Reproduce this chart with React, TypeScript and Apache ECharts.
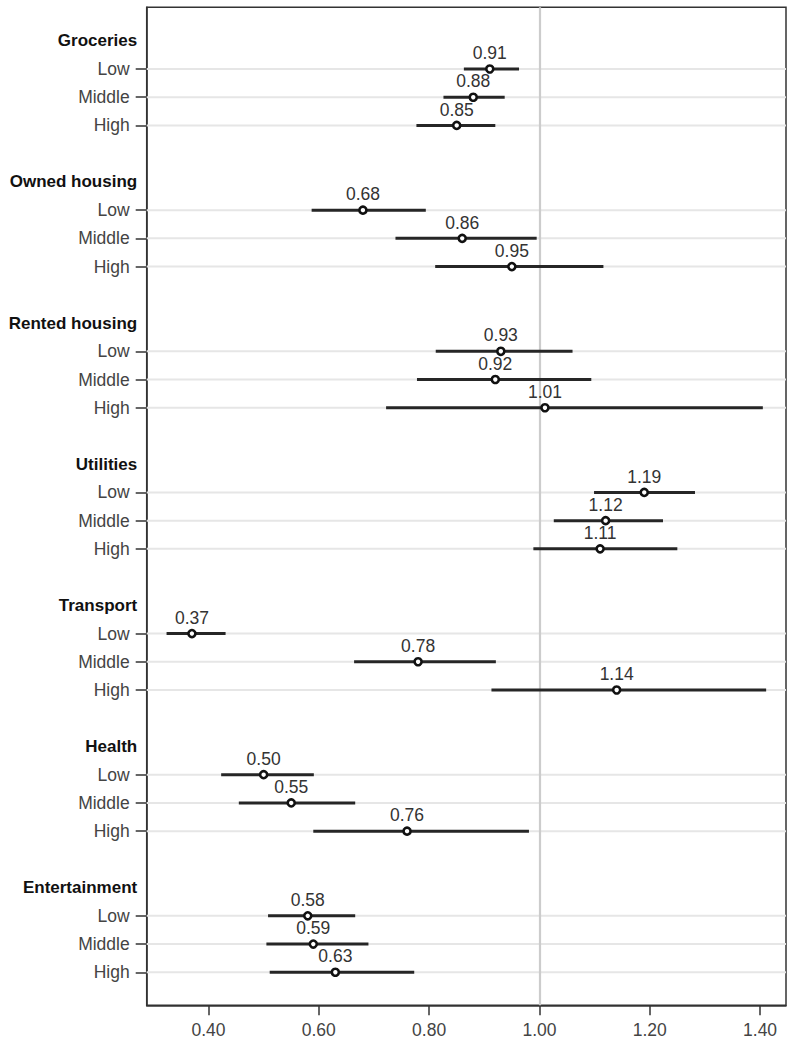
import React, { useEffect, useRef } from "react";
import * as echarts from "echarts";

const groups = ["Groceries", "Owned housing", "Rented housing", "Utilities", "Transport", "Health", "Entertainment"];
const levels = ["Low", "Middle", "High"];

// estimates per group: Low, Middle, High
const estGroceries = [0.91, 0.88, 0.85];
const estOwned = [0.68, 0.86, 0.95];
const estRented = [0.93, 0.92, 1.01];
const estUtilities = [1.19, 1.12, 1.11];
const estTransport = [0.37, 0.78, 1.14];
const estHealth = [0.5, 0.55, 0.76];
const estEntertainment = [0.58, 0.59, 0.63];

const lowGroceries = [0.863, 0.826, 0.777];
const lowOwned = [0.587, 0.739, 0.811];
const lowRented = [0.812, 0.778, 0.722];
const lowUtilities = [1.099, 1.026, 0.989];
const lowTransport = [0.324, 0.664, 0.913];
const lowHealth = [0.423, 0.455, 0.59];
const lowEntertainment = [0.508, 0.505, 0.511];

const upGroceries = [0.963, 0.937, 0.92];
const upOwned = [0.794, 0.995, 1.116];
const upRented = [1.06, 1.094, 1.405];
const upUtilities = [1.282, 1.224, 1.25];
const upTransport = [0.431, 0.921, 1.411];
const upHealth = [0.591, 0.666, 0.981];
const upEntertainment = [0.666, 0.69, 0.773];

const xTicks = [0.4, 0.6, 0.8, 1.0, 1.2, 1.4];
const refValue = 1.0;

const estimates = [estGroceries, estOwned, estRented, estUtilities, estTransport, estHealth, estEntertainment];
const lowers = [lowGroceries, lowOwned, lowRented, lowUtilities, lowTransport, lowHealth, lowEntertainment];
const uppers = [upGroceries, upOwned, upRented, upUtilities, upTransport, upHealth, upEntertainment];

const FONT = "'Liberation Sans', Arial, Helvetica, sans-serif";

export default function App() {
  const ref = useRef<HTMLDivElement>(null);

  useEffect(() => {
    if (!ref.current) return;
    const chart = echarts.init(ref.current, undefined, { renderer: "svg" });

    const rowPos: number[] = [];
    const headerPos: number[] = [];
    const pointData: number[][] = [];
    const ciData: number[][] = [];
    groups.forEach((g, gi) => {
      headerPos.push(gi * 5);
      levels.forEach((l, li) => {
        const row = gi * 5 + li + 1;
        rowPos.push(row);
        pointData.push([estimates[gi][li], row]);
        ciData.push([lowers[gi][li], uppers[gi][li], row]);
      });
    });

    const yMin = -1.186;
    const yMax = 34.17;

    const option: any = {
      animation: false,
      textStyle: { fontFamily: FONT },
      grid: {
        left: 146.7,
        right: 12,
        top: 7.3,
        bottom: 44.7,
        show: true,
        borderColor: "#333",
        borderWidth: 1.5,
        containLabel: false,
      },
      xAxis: {
        type: "value",
        min: 0.288,
        max: 1.447,
        position: "bottom",
        axisLine: { show: true, onZero: false, lineStyle: { color: "#333", width: 1.5 } },
        axisTick: { show: true, customValues: xTicks, length: 10, lineStyle: { color: "#333", width: 1.5 } },
        axisLabel: {
          customValues: xTicks,
          formatter: (v: number) => v.toFixed(2),
          fontSize: 17.5,
          color: "#444",
          margin: 16,
          fontFamily: FONT,
        },
        splitLine: { show: false },
      },
      yAxis: [
        {
          type: "value",
          inverse: true,
          min: yMin,
          max: yMax,
          position: "left",
          axisLine: { show: true, onZero: false, lineStyle: { color: "#333", width: 1.5 } },
          axisTick: { show: true, customValues: rowPos, length: 11, lineStyle: { color: "#333", width: 1.5 } },
          axisLabel: {
            customValues: rowPos,
            formatter: (v: number) => {
              const r = Math.round(v);
              return levels[(r % 5) - 1] || "";
            },
            fontSize: 17.5,
            color: "#444",
            margin: 17,
            fontFamily: FONT,
          },
          splitLine: { show: false },
        },
        {
          type: "value",
          inverse: true,
          min: yMin,
          max: yMax,
          position: "left",
          axisLine: { show: false },
          axisTick: { show: false },
          axisLabel: {
            customValues: headerPos,
            formatter: (v: number) => groups[Math.round(v) / 5] || "",
            fontSize: 17,
            fontWeight: "bold",
            color: "#111",
            margin: 9.5,
            fontFamily: FONT,
          },
          splitLine: { show: false },
        },
      ],
      series: [
        {
          type: "custom",
          name: "grid",
          silent: true,
          z: 1,
          data: rowPos.map((r) => [refValue, r]),
          encode: { x: 0, y: 1 },
          renderItem: (params: any, api: any) => {
            const cs = params.coordSys;
            const y = api.coord([api.value(0), api.value(1)])[1];
            return {
              type: "line",
              shape: { x1: cs.x, y1: y, x2: cs.x + cs.width, y2: y },
              style: { stroke: "#e6e6e6", lineWidth: 2 },
            };
          },
          markLine: {
            silent: true,
            symbol: "none",
            label: { show: false },
            lineStyle: { color: "#cccccc", width: 2.2, type: "solid" },
            data: [{ xAxis: refValue }],
            z: 2,
          },
        },
        {
          type: "custom",
          name: "ci",
          silent: true,
          z: 3,
          data: ciData,
          encode: { x: [0, 1], y: 2 },
          renderItem: (params: any, api: any) => {
            const y = api.value(2);
            const p1 = api.coord([api.value(0), y]);
            const p2 = api.coord([api.value(1), y]);
            return {
              type: "line",
              shape: { x1: p1[0], y1: p1[1], x2: p2[0], y2: p2[1] },
              style: { stroke: "#262626", lineWidth: 3 },
            };
          },
        },
        {
          type: "scatter",
          name: "est",
          z: 4,
          data: pointData,
          symbol: "circle",
          symbolSize: 7,
          itemStyle: { color: "#ffffff", borderColor: "#111", borderWidth: 2.6, opacity: 1 },
          label: {
            show: true,
            position: "top",
            distance: 2,
            formatter: (p: any) => p.value[0].toFixed(2),
            fontSize: 17.5,
            color: "#333",
            fontFamily: FONT,
          },
        },
      ],
    };

    chart.setOption(option);
    return () => chart.dispose();
  }, []);

  return (
    <div
      ref={ref}
      style={{ position: "fixed", left: 0, top: 0, width: 798, height: 1050, background: "#fff" }}
    />
  );
}
